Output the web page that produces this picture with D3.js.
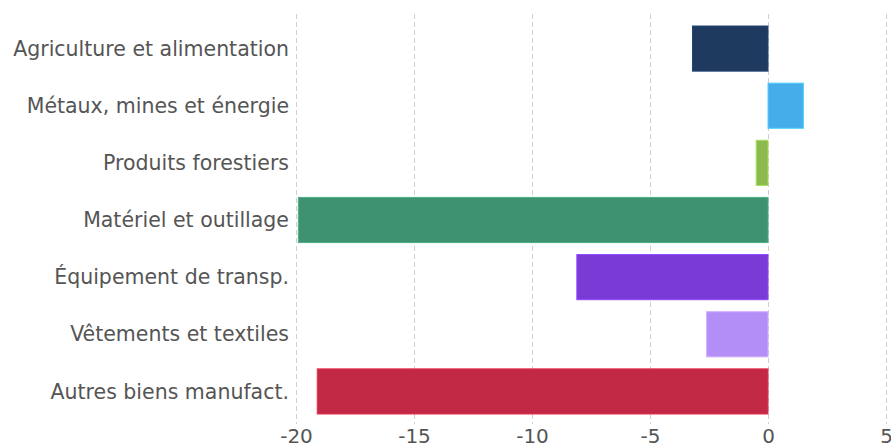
<!DOCTYPE html>
<html>
<head>
<meta charset="utf-8">
<script src="https://cdn.jsdelivr.net/npm/d3@7"></script>
<style>
  body { margin: 0; background: #fff; }
  svg { display: block; font-family: "DejaVu Sans", Verdana, sans-serif; }
</style>
</head>
<body>
<div id="chart"></div>
<script>
// data
const categories = [
  "Agriculture et alimentation",
  "Métaux, mines et énergie",
  "Produits forestiers",
  "Matériel et outillage",
  "Équipement de transp.",
  "Vêtements et textiles",
  "Autres biens manufact."
]
const values = [-3.2, 1.5, -0.5, -19.9, -8.1, -2.6, -19.1]
const colors = ["#1f3a5f", "#45ade9", "#8cba4e", "#3f9270", "#7a3ad6", "#b38ef6", "#c12944"]
const tickValues = [-20, -15, -10, -5, 0, 5]

const dims = { width: 891, height: 448 }

const svg = d3.select("#chart").append("svg")
    .attr("width", dims.width)
    .attr("height", dims.height)

const xScale = d3.scaleLinear()
    .domain([-20, 5])
    .range([296, 886])

const yScale = d3.scaleBand()
    .domain(categories)
    .range([20, 420])
    .paddingInner(0.21)
    .paddingOuter(0.105)

// gridlines
svg.append("g")
    .selectAll("line")
    .data(tickValues)
    .join("line")
    .attr("x1", d => Math.round(xScale(d)) + 0.5)
    .attr("x2", d => Math.round(xScale(d)) + 0.5)
    .attr("y1", 14)
    .attr("y2", 424)
    .attr("stroke", "#d0d0d0")
    .attr("stroke-width", 1)
    .attr("stroke-dasharray", "5,3")

// bars
const data = categories.map((c, i) => ({ cat: c, value: values[i], color: colors[i] }))

svg.append("g")
    .selectAll("rect")
    .data(data)
    .join("rect")
    .attr("x", d => xScale(Math.min(0, d.value)))
    .attr("width", d => Math.abs(xScale(d.value) - xScale(0)))
    .attr("y", d => yScale(d.cat))
    .attr("height", yScale.bandwidth())
    .attr("fill", d => d.color)
    .attr("stroke", d => d3.color(d.color).brighter(0.5))
    .attr("stroke-width", 1)

// category labels
svg.append("g")
    .selectAll("text")
    .data(categories)
    .join("text")
    .attr("x", 289)
    .attr("y", d => yScale(d) + yScale.bandwidth() / 2)
    .attr("dy", "0.35em")
    .attr("text-anchor", "end")
    .attr("fill", "#555")
    .style("font-size", "20.5px")
    .text(d => d)

// x axis tick labels (plain hyphen minus like the original)
const xAxis = d3.axisBottom(xScale)
    .tickValues(tickValues)
    .tickFormat(d => String(d))
    .tickSize(0)
    .tickPadding(0)

const axisG = svg.append("g")
    .attr("transform", "translate(0,425)")
    .call(xAxis)

axisG.select(".domain").remove()
axisG.selectAll("text")
    .attr("fill", "#555")
    .attr("dy", "0.9em")
    .style("font-size", "20px")
    .style("font-family", "'DejaVu Sans', Verdana, sans-serif")
</script>
</body>
</html>
